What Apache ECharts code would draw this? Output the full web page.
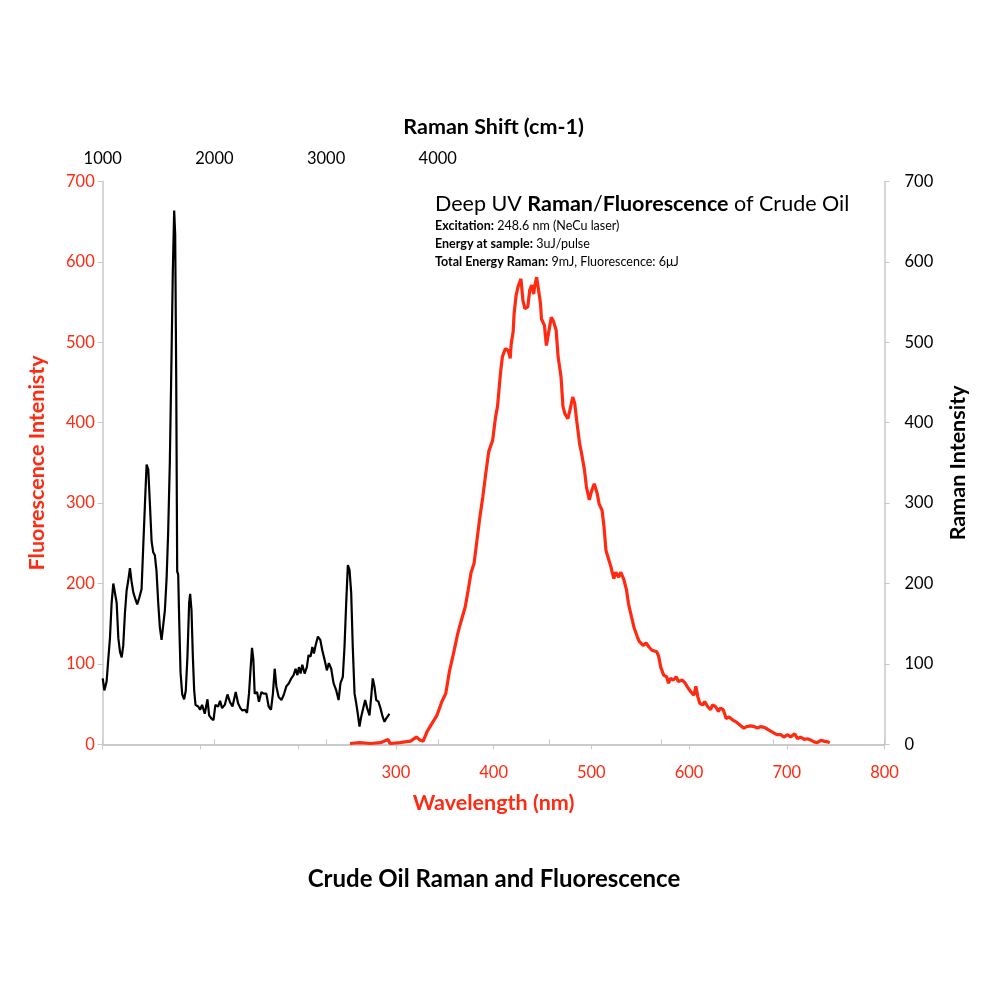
<!DOCTYPE html>
<html>
<head>
<meta charset="utf-8">
<script src="https://cdn.jsdelivr.net/npm/echarts@6/dist/echarts.min.js"></script>
<style>
  html, body { margin: 0; padding: 0; background: #fff; }
  #main { width: 988px; height: 988px; }
</style>
</head>
<body>
<div id="main"></div>
<script>
// Raman spectrum (top axis: Raman shift in cm-1, right axis: intensity)
var ramanShift = [
  1000, 1015, 1035, 1050, 1065, 1080, 1095, 1110, 1125, 1140,
  1155, 1170, 1184, 1199, 1214, 1229, 1244, 1259, 1274, 1289,
  1309, 1327, 1348, 1363, 1378, 1393, 1408, 1423, 1438, 1452,
  1467, 1482, 1497, 1512, 1527, 1542, 1557, 1572, 1586, 1601,
  1616, 1628, 1640, 1649, 1658, 1667, 1676, 1685, 1697, 1712,
  1729, 1744, 1759, 1774, 1783, 1795, 1807, 1819, 1831, 1855,
  1872, 1890, 1914, 1938, 1953, 1974, 1992, 2009, 2033, 2051,
  2069, 2093, 2117,
  2138, 2162, 2191, 2212, 2233, 2251, 2272, 2292, 2310, 2325,
  2337, 2349, 2361, 2382, 2399, 2421, 2441, 2465, 2486, 2507,
  2524, 2540, 2555, 2575, 2600, 2620, 2644, 2667, 2689, 2709,
  2727, 2743, 2757, 2772, 2787, 2808, 2828, 2843, 2861, 2877,
  2891, 2906, 2927, 2948, 2966, 2987, 3007, 3025, 3046, 3067,
  3091, 3112, 3129, 3150, 3165, 3180, 3195, 3210, 3225, 3239,
  3255, 3270, 3284, 3299, 3314, 3329, 3350, 3368, 3389, 3404,
  3418, 3433, 3449, 3469, 3487, 3507, 3523, 3538, 3552, 3567
];
var ramanIntensity = [
  82, 67, 78, 106, 132, 176, 200, 198, 176, 132,
  115, 108, 123, 163, 191, 204, 219, 202, 189, 182,
  174, 182, 193, 246, 298, 348, 342, 298, 252, 239,
  235, 215, 176, 145, 130, 132, 167, 206, 263, 350,
  481, 590, 664, 634, 460, 215, 211, 154, 89, 62,
  56, 67, 110, 176, 187, 167, 110, 67, 49, 47,
  43, 49, 38, 56, 36, 32, 30, 49, 47, 54,
  45, 49, 62,
  53, 47, 65, 51, 45, 42, 43, 39, 63, 96,
  120, 105, 63, 65, 53, 65, 63, 63, 47, 43,
  63, 94, 72, 59, 55, 61, 72, 76, 82, 86,
  94, 86, 96, 88, 99, 88, 96, 111, 109, 121,
  113, 123, 134, 130, 117, 105, 92, 101, 94, 76,
  67, 55, 76, 84, 121, 175, 223, 217, 188, 121,
  63, 51, 38, 22, 34, 36, 55, 45, 36, 59,
  82, 72, 55, 53, 45, 34, 28, 32, 34, 38
];

// Fluorescence spectrum (bottom axis: wavelength in nm, left axis: intensity)
var wavelength = [
  253, 263, 274, 284, 292, 294, 304, 315, 321, 325,
  328, 332, 337, 342, 347, 351, 355, 359, 363, 366,
  371, 374, 377, 380, 383, 386, 389, 392, 395, 399,
  402, 404, 407, 409, 412, 415, 417, 418, 420, 421,
  423, 425, 428, 430, 432, 435, 437, 439, 441, 442,
  444, 446, 448, 449, 452, 454, 457, 459, 461, 464,
  466, 469, 471, 473, 476, 478, 481, 483, 485, 488,
  490, 493, 495, 498, 500, 503, 506, 508,
  511, 513, 515, 517, 520, 523, 525, 528, 530, 533,
  536, 538, 541, 544, 547, 549, 553, 556, 559, 562,
  564, 567, 569, 571, 574, 577, 579, 581, 584, 587,
  589, 593, 596, 599, 602, 605, 607, 609, 611, 614,
  616, 619, 622, 624, 627, 630, 632, 635, 638, 641,
  645, 648, 652, 656, 659, 663, 667, 670, 673, 677,
  680, 684, 687, 690, 694, 697, 701, 704, 708, 711,
  714, 718, 721, 725, 728, 731, 735, 738, 742, 744
];
var fluorIntensity = [
  1, 2, 1, 2, 6, 1, 2, 4, 9, 5,
  4, 16, 26, 36, 53, 63, 92, 113, 136, 150,
  171, 192, 214, 225, 254, 283, 308, 337, 364, 378,
  407, 420, 461, 482, 492, 490, 480, 498, 513, 536,
  558, 569, 579, 552, 542, 544, 565, 571, 560, 569,
  581, 565, 548, 529, 521, 496, 517, 531, 527, 515,
  482, 457, 420, 411, 405, 415, 432, 424, 403, 374,
  362, 341, 320, 304, 314, 324, 312, 299,
  291, 270, 241, 233, 221, 206, 214, 208, 214, 206,
  192, 175, 159, 144, 134, 128, 123, 126, 121, 117,
  119, 115, 109, 96, 86, 84, 76, 82, 80, 84,
  78, 80, 76, 70, 65, 61, 72, 59, 51, 49,
  53, 47, 43, 49, 47, 41, 45, 43, 32, 34,
  30, 28, 24, 20, 22, 23, 22, 20, 22, 21,
  19, 16, 14, 12, 12, 9, 12, 9, 13, 7,
  9, 6, 7, 5, 3, 2, 5, 4, 3, 2
];

var RED = '#ff2a12';
var FONT = 'Lato';

var chart = echarts.init(document.getElementById('main'));

function zip(xs, ys) {
  return xs.map(function (x, i) { return [x, ys[i]]; });
}

var axisLineStyle = { lineStyle: { color: '#c8c8c8', width: 1.5 } };
var axisTickStyle = { show: true, length: 5, lineStyle: { color: '#c8c8c8' } };

var option = {
  backgroundColor: '#fff',
  animation: false,
  title: {
    text: 'Crude Oil Raman and Fluorescence',
    left: 'center',
    top: 862,
    textStyle: { fontFamily: FONT, fontWeight: 'bold', fontSize: 24, color: '#000' }
  },
  grid: { left: 102.7, right: 103.5, top: 181.5, bottom: 243.7 },
  xAxis: [{
    type: 'value',
    position: 'bottom',
    min: 0, max: 800, interval: 100,
    name: 'Wavelength (nm)',
    nameLocation: 'middle',
    nameGap: 48,
    nameTextStyle: { color: RED, fontFamily: FONT, fontWeight: 'bold', fontSize: 21.5 },
    axisLine: axisLineStyle,
    axisTick: axisTickStyle,
    splitLine: { show: false },
    axisLabel: {
      color: RED, fontFamily: FONT, fontSize: 16.5, margin: 20,
      formatter: function (v) { return v >= 300 ? String(v) : ''; }
    }
  }, {
    type: 'value',
    position: 'top',
    min: 1000, max: 8000, interval: 1000,
    name: 'Raman Shift (cm-1)',
    nameLocation: 'middle',
    nameGap: 43,
    nameTextStyle: { color: '#000', fontFamily: FONT, fontWeight: 'bold', fontSize: 21.5 },
    axisLine: axisLineStyle,
    axisTick: axisTickStyle,
    splitLine: { show: false },
    axisLabel: {
      color: '#000', fontFamily: FONT, fontSize: 16.5, margin: 14,
      formatter: function (v) { return v <= 4000 ? String(v) : ''; }
    }
  }],
  yAxis: [{
    type: 'value',
    position: 'left',
    min: 0, max: 700, interval: 100,
    name: 'Fluorescence Intenisty',
    nameLocation: 'middle',
    nameRotate: 90,
    nameGap: 55,
    nameTextStyle: { color: RED, fontFamily: FONT, fontWeight: 'bold', fontSize: 21.5 },
    axisLine: { show: true, lineStyle: { color: '#c8c8c8', width: 1.5 } },
    axisTick: axisTickStyle,
    splitLine: { show: false },
    axisLabel: { color: RED, fontFamily: FONT, fontSize: 16.5, margin: 8 }
  }, {
    type: 'value',
    position: 'right',
    min: 0, max: 700, interval: 100,
    name: 'Raman Intensity',
    nameLocation: 'middle',
    nameRotate: 90,
    nameGap: 63,
    nameTextStyle: { color: '#000', fontFamily: FONT, fontWeight: 'bold', fontSize: 21.5 },
    axisLine: { show: true, lineStyle: { color: '#c8c8c8', width: 1.5 } },
    axisTick: axisTickStyle,
    splitLine: { show: false },
    axisLabel: { color: '#000', fontFamily: FONT, fontSize: 16.5, margin: 20 }
  }],
  graphic: [{
    type: 'text',
    left: 435,
    top: 193,
    style: {
      text: '{n|Deep UV }{b|Raman}{n|/}{r|Fluorescence}{n| of Crude Oil}',
      rich: {
        n: { fontFamily: FONT, fontSize: 21.5, color: '#000' },
        b: { fontFamily: FONT, fontSize: 21.5, fontWeight: 'bold', color: '#000' },
        r: { fontFamily: FONT, fontSize: 21.5, fontWeight: 'bold', color: RED }
      }
    }
  }, {
    type: 'text',
    left: 435,
    top: 219,
    style: {
      text: '{b|Excitation:} {n|248.6 nm (NeCu laser)}\n{b|Energy at sample:} {n|3uJ/pulse}\n{b|Total Energy Raman:} {n|9mJ, Fluorescence: 6μJ}',
      rich: {
        n: { fontFamily: FONT, fontSize: 12.5, color: '#000', lineHeight: 18 },
        b: { fontFamily: FONT, fontSize: 12.5, fontWeight: 'bold', color: '#000', lineHeight: 18 }
      }
    }
  }],
  series: [{
    name: 'Fluorescence',
    type: 'line',
    xAxisIndex: 0,
    yAxisIndex: 0,
    showSymbol: false,
    lineStyle: { color: RED, width: 3.2 },
    data: zip(wavelength, fluorIntensity)
  }, {
    name: 'Raman',
    type: 'line',
    xAxisIndex: 1,
    yAxisIndex: 1,
    showSymbol: false,
    lineStyle: { color: '#000', width: 2.2 },
    data: zip(ramanShift, ramanIntensity)
  }]
};

chart.setOption(option);
</script>
</body>
</html>
